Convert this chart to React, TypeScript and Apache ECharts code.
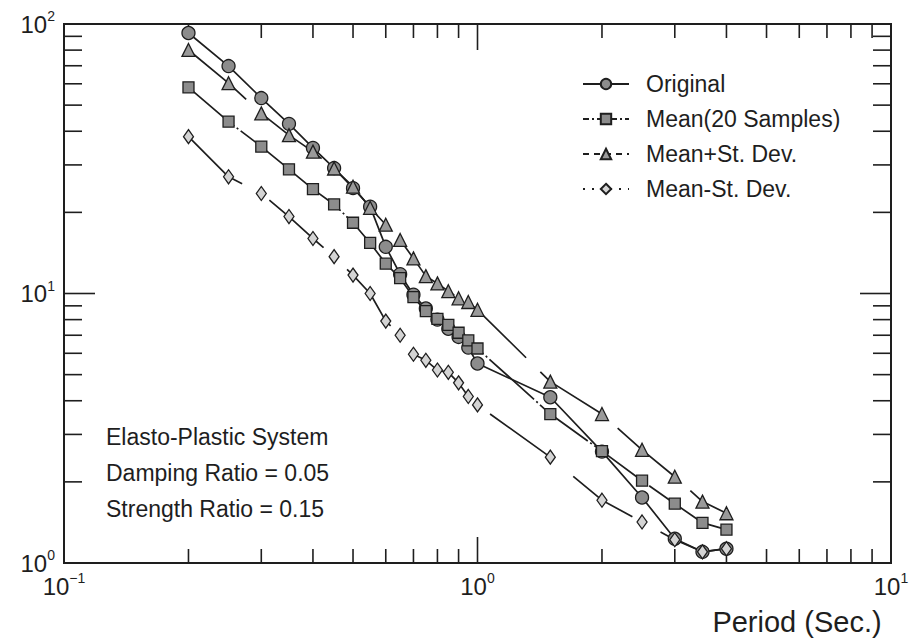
import React, { useEffect, useRef } from "react";
import * as echarts from "echarts";

// ---- data ----
const periods = [0.2, 0.25, 0.3, 0.35, 0.4, 0.45, 0.5, 0.55, 0.6, 0.65, 0.7, 0.75, 0.8, 0.85, 0.9, 0.95, 1.0, 1.5, 2.0, 2.5, 3.0, 3.5, 4.0];
const original = [92.6, 69.8, 53.1, 42.6, 34.7, 29.2, 24.6, 21.0, 14.9, 11.8, 9.9, 8.8, 8.0, 7.4, 6.9, 6.3, 5.5, 4.12, 2.59, 1.75, 1.23, 1.1, 1.13];
const mean = [58.2, 43.4, 35.1, 28.9, 24.4, 21.4, 18.3, 15.4, 12.9, 11.4, 9.7, 8.6, 8.05, 7.65, 7.15, 6.7, 6.25, 3.57, 2.6, 2.02, 1.66, 1.41, 1.33];
const meanPlus = [80.1, 60.3, 46.6, 38.7, 33.6, 29.1, 24.9, 20.8, 18.0, 15.8, 13.5, 11.6, 10.9, 10.2, 9.6, 9.3, 8.7, 4.71, 3.57, 2.63, 2.09, 1.69, 1.53];
const meanMinus = [38.2, 27.1, 23.5, 19.3, 16.0, 13.7, 11.7, 10.0, 7.9, 7.0, 5.95, 5.65, 5.2, 5.1, 4.66, 4.15, 3.86, 2.47, 1.71, 1.42, 1.22, 1.1, 1.13];
const seriesNames = ["Original", "Mean(20 Samples)", "Mean+St. Dev.", "Mean-St. Dev."];

const xMinorTicks = [0.2, 0.3, 0.4, 0.5, 0.6, 0.7, 0.8, 0.9, 2, 3, 4, 5, 6, 7, 8, 9];
const xMajorTicks = [1];
const yMinorTicks = [2, 3, 4, 5, 6, 7, 8, 9, 20, 30, 40, 50, 60, 70, 80, 90];
const yMajorTicks = [10];

const annotations = ["Elasto-Plastic System", "Damping Ratio = 0.05", "Strength Ratio = 0.15"];
const xAxisTitle = "Period (Sec.)";

const X_MIN = 0.1, X_MAX = 10, Y_MIN = 1, Y_MAX = 100;
const INK = "#1e1e1e";
const FONT = '"Liberation Sans", Arial, sans-serif';

const expLabel = (v: number) => {
  const e = Math.round(Math.log10(v));
  return `{b|10}{s|${e < 0 ? "\u2212" + -e : e}}`;
};

const labelRich = {
  b: { fontSize: 24, lineHeight: 30, color: INK, fontFamily: FONT },
  s: { fontSize: 14, lineHeight: 16, color: INK, fontFamily: FONT, verticalAlign: "top" },
};

function tickSeries(values: number[], dir: "x" | "y", len: number) {
  return {
    type: "custom",
    silent: true,
    z: 2,
    data: values.map((v) => (dir === "x" ? [v, Y_MIN] : [X_MIN, v])),
    renderItem: (_p: any, api: any) => {
      const style = { stroke: INK, lineWidth: 1.6 };
      if (dir === "x") {
        const v = api.value(0);
        const b = api.coord([v, Y_MIN]);
        const t = api.coord([v, Y_MAX]);
        return {
          type: "group",
          children: [
            { type: "line", shape: { x1: b[0], y1: b[1], x2: b[0], y2: b[1] - len }, style },
            { type: "line", shape: { x1: t[0], y1: t[1], x2: t[0], y2: t[1] + len }, style },
          ],
        };
      }
      const v = api.value(1);
      const l = api.coord([X_MIN, v]);
      const r = api.coord([X_MAX, v]);
      return {
        type: "group",
        children: [
          { type: "line", shape: { x1: l[0], y1: l[1], x2: l[0] + len, y2: l[1] }, style },
          { type: "line", shape: { x1: r[0], y1: r[1], x2: r[0] - len, y2: r[1] }, style },
        ],
      };
    },
  };
}

function lineSeries(name: string, vals: number[], symbol: string, size: any, dash: any, fill: string) {
  return {
    type: "line",
    name,
    data: periods.map((p, i) => [p, vals[i]]),
    symbol,
    symbolSize: size,
    showSymbol: true,
    showAllSymbol: true,
    z: 3,
    lineStyle: { color: INK, width: 1.7, type: dash },
    itemStyle: { color: fill, borderColor: INK, borderWidth: 1.3 },
  };
}

export default function App() {
  const ref = useRef<HTMLDivElement>(null);
  useEffect(() => {
    if (!ref.current) return;
    const chart = echarts.init(ref.current, undefined, { renderer: "svg" });
    const legendDash: any[] = ["solid", [6, 3, 2, 3], [6, 5], [2, 7]];
    chart.setOption({
      animation: false,
      backgroundColor: "#ffffff",
      grid: { left: 64, top: 24, width: 827, height: 539, show: true, borderColor: INK, borderWidth: 2, backgroundColor: "transparent" },
      xAxis: {
        type: "log",
        logBase: 10,
        min: X_MIN,
        max: X_MAX,
        axisLine: { show: true, lineStyle: { color: INK, width: 2 } },
        axisTick: { show: false },
        splitLine: { show: false },
        axisLabel: { margin: 8, formatter: expLabel, rich: labelRich, showMinLabel: true, showMaxLabel: true },
      },
      yAxis: {
        type: "log",
        logBase: 10,
        min: Y_MIN,
        max: Y_MAX,
        axisLine: { show: true, lineStyle: { color: INK, width: 2 } },
        axisTick: { show: false },
        splitLine: { show: false },
        axisLabel: { margin: 9, formatter: expLabel, rich: labelRich, showMinLabel: true, showMaxLabel: true },
      },
      legend: {
        orient: "vertical",
        left: 577,
        top: 66,
        itemWidth: 46,
        itemHeight: 13,
        itemGap: 9,
        textStyle: { fontFamily: FONT, fontSize: 23, color: INK, lineHeight: 26, padding: [0, 0, 0, 12] },
        data: seriesNames.map((n, i) => ({ name: n, lineStyle: { type: legendDash[i] } })),
      },
      series: [
        tickSeries(xMinorTicks, "x", 14),
        tickSeries(xMajorTicks, "x", 26),
        tickSeries(yMinorTicks, "y", 18),
        tickSeries(yMajorTicks, "y", 31),
        lineSeries(seriesNames[0], original, "circle", 13, "solid", "#8c8c8c"),
        lineSeries(seriesNames[1], mean, "rect", 11, [60, 3, 2, 3], "#8c8c8c"),
        lineSeries(seriesNames[2], meanPlus, "triangle", 13, [76, 20], "#9a9a9a"),
        lineSeries(seriesNames[3], meanMinus, "diamond", [10, 14], [72, 32], "#d4d4d4"),
      ],
      graphic: [
        ...annotations.map((t, i) => ({
          type: "text",
          x: 106,
          y: 437 + i * 36,
          style: { text: t, fontFamily: FONT, fontSize: 23, fill: INK, align: "left", verticalAlign: "middle" },
        })),
        {
          type: "text",
          x: 797,
          y: 622,
          style: { text: xAxisTitle, fontFamily: FONT, fontSize: 29, fill: INK, align: "center", verticalAlign: "middle" },
        },
      ],
    });
    return () => chart.dispose();
  }, []);
  return <div ref={ref} style={{ position: "fixed", left: 0, top: 0, width: 919, height: 641, background: "#fff" }} />;
}
